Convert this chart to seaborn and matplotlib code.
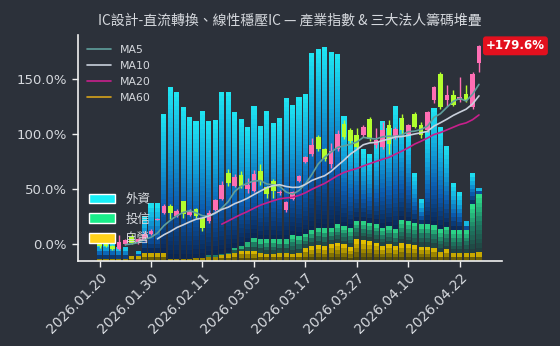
import numpy as np
import pandas as pd
import matplotlib
matplotlib.use("Agg")
import matplotlib.pyplot as plt
import seaborn as sns
from matplotlib.colors import LinearSegmentedColormap
from matplotlib.lines import Line2D
from matplotlib.patches import Patch

# ---------------- data ----------------
dates = ["2026.01.20", "2026.01.21", "2026.01.22", "2026.01.23", "2026.01.26", "2026.01.27",
         "2026.01.28", "2026.01.29", "2026.01.30", "2026.02.02", "2026.02.03", "2026.02.04",
         "2026.02.05", "2026.02.06", "2026.02.09", "2026.02.10", "2026.02.11", "2026.02.23",
         "2026.02.24", "2026.02.25", "2026.02.26", "2026.03.02", "2026.03.03", "2026.03.04",
         "2026.03.05", "2026.03.06", "2026.03.09", "2026.03.10", "2026.03.11", "2026.03.12",
         "2026.03.13", "2026.03.16", "2026.03.17", "2026.03.18", "2026.03.19", "2026.03.20",
         "2026.03.23", "2026.03.24", "2026.03.25", "2026.03.26", "2026.03.27", "2026.03.30",
         "2026.03.31", "2026.04.01", "2026.04.02", "2026.04.07", "2026.04.08", "2026.04.09",
         "2026.04.10", "2026.04.13", "2026.04.14", "2026.04.15", "2026.04.16", "2026.04.17",
         "2026.04.20", "2026.04.21", "2026.04.22", "2026.04.23", "2026.04.24", "2026.04.27"]

open_pct = [1.5, 4.5, -1.5, -4.5, 0.0, 6.6, 1.5, 3.6, 9.1, 22.0,
            28.7, 34.8, 25.7, 38.7, 26.4, 31.8, 23.6, 21.2, 30.9, 40.9,
            64.2, 53.0, 63.0, 50.0, 48.5, 66.6, 52.1, 57.5, 46.5, 30.9,
            40.9, 57.5, 74.2, 81.8, 96.9, 86.4, 72.7, 86.4, 109.1, 103.0,
            98.5, 98.5, 113.6, 89.4, 87.8, 107.5, 96.9, 114.0, 100.0, 118.2,
            107.5, 103.0, 130.3, 154.5, 130.3, 134.8, 130.3, 136.4, 124.2, 163.6]
high_pct = [2.5, 5.5, -0.5, 8.5, 5.0, 9.4, 5.5, 12.1, 14.0, 23.5,
            36.0, 36.6, 32.0, 39.4, 31.5, 33.0, 25.0, 30.7, 41.0, 57.5,
            68.5, 63.9, 66.6, 60.3, 67.5, 73.0, 53.0, 59.4, 49.5, 39.0,
            48.0, 63.0, 80.0, 96.6, 98.5, 87.5, 91.2, 103.0, 112.0, 105.0,
            104.8, 108.0, 114.8, 104.8, 111.0, 112.0, 106.0, 118.0, 109.0, 119.4,
            110.3, 121.0, 143.0, 156.0, 143.9, 139.4, 151.5, 143.9, 155.5, 180.5]
low_pct = [-3.0, -2.5, -5.0, -5.0, -1.0, -0.2, 0.5, 2.5, 8.0, 21.5,
           27.0, 23.0, 24.5, 24.0, 25.5, 24.0, 12.0, 19.4, 30.0, 40.0,
           53.0, 52.0, 51.2, 46.6, 47.0, 53.9, 42.1, 42.1, 45.0, 29.5,
           40.0, 56.5, 73.5, 80.3, 84.8, 75.7, 69.4, 84.8, 95.7, 91.0,
           86.6, 97.0, 93.0, 87.5, 86.0, 82.0, 95.0, 100.0, 99.0, 104.8,
           96.6, 102.0, 128.0, 122.0, 124.8, 124.8, 129.0, 128.5, 122.5, 156.0]
close_pct = [-2.0, -1.5, -4.5, 2.4, 3.6, 1.5, 4.5, 9.6, 12.1, 23.0,
             34.8, 28.7, 30.3, 27.3, 30.3, 25.7, 15.1, 28.7, 40.0, 53.9,
             55.1, 60.5, 53.0, 53.9, 63.6, 56.9, 45.5, 48.5, 47.5, 37.8,
             46.9, 62.1, 78.7, 89.4, 86.4, 77.3, 84.8, 100.0, 96.9, 93.0,
             87.8, 106.0, 95.5, 93.9, 103.0, 90.9, 104.5, 103.0, 107.5, 106.0,
             98.5, 119.6, 142.4, 124.2, 134.8, 125.7, 133.3, 130.3, 154.5, 179.6]

# stacked chip holdings (arbitrary units): foreign / investment trust / dealers
foreign = [15.5, 15.5, 14.5, 11.5, 11.5, 0.5, 5.0, 36.5, 49.5, 49.5,
           138.5, 171.5, 166.5, 151.5, 141.5, 137.0, 146.5, 134.0, 134.5, 161.5,
           160.7, 135.7, 127.3, 115.3, 131.7, 113.3, 128.3, 116.6, 121.6, 141.6,
           130.0, 139.0, 139.4, 177.6, 178.4, 181.3, 175.7, 170.0, 110.0, 97.3,
           85.0, 72.0, 68.7, 82.7, 106.7, 98.3, 123.0, 102.3, 92.0, 50.0,
           25.0, 93.3, 117.6, 102.6, 80.7, 47.3, 38.0, 9.0, 31.6, 6.0]
trust = [0, 0, 0, 0, 0, 0, 0, 0, 0, 0,
         0, 0, 0, 0, 0, 0, 0.5, 2.0, 2.0, 1.5,
         1.6, 5.0, 5.0, 9.0, 13.3, 13.4, 14.4, 14.4, 13.4, 13.4,
         18.7, 16.7, 14.0, 15.7, 17.3, 17.7, 16.6, 18.4, 18.3, 18.7,
         18.3, 19.3, 18.3, 19.0, 18.3, 18.3, 17.0, 23.3, 23.3, 22.6,
         22.4, 22.4, 22.4, 22.7, 22.6, 23.3, 23.3, 22.7, 48.7, 58.3]
dealer = [2.5, 2.5, 2.5, 2.5, 2.5, 5.0, 5.0, 8.5, 8.5, 8.5,
          8.5, 2.5, 2.5, 2.5, 2.5, 3.0, 3.0, 4.0, 4.5, 6.0,
          6.7, 8.3, 10.0, 10.0, 10.0, 8.3, 7.3, 7.3, 8.3, 8.3,
          7.3, 8.3, 13.3, 15.0, 16.0, 15.0, 16.7, 18.3, 16.7, 14.0,
          21.7, 20.7, 20.0, 18.3, 15.0, 16.7, 15.0, 17.7, 16.7, 15.7,
          14.3, 14.3, 13.3, 9.0, 11.7, 7.7, 7.7, 8.3, 8.0, 9.0]

ma_windows = [5, 10, 20, 60]
ma_labels = ["MA5", "MA10", "MA20", "MA60"]
chip_labels = ["外資", "投信", "自營"]
y_ticks = [0, 50, 100, 150]
title_text = "IC設計-直流轉換、線性穩壓IC — 產業指數 & 三大法人籌碼堆疊"

# ---------------- style ----------------
BG = "#2c313a"
TXT = "#d6d9de"
SPINE = "#f0f0f0"
sns.set_theme(style="dark")
plt.rcParams["font.family"] = ["DejaVu Sans"]
plt.rcParams["axes.unicode_minus"] = False

fig = plt.figure(figsize=(5.6, 3.46), dpi=100, facecolor=BG)
ax2 = fig.add_axes([77.5 / 560, 1 - 261 / 346, (501.8 - 77.5) / 560, (261 - 35) / 346])
ax = ax2.twinx()
ax.set_zorder(ax2.get_zorder() + 1)
ax.patch.set_visible(False)
ax2.set_facecolor(BG)

n = len(dates)
xs = np.arange(n)

# ---------------- gradient stacked bars ----------------
cm_foreign = LinearSegmentedColormap.from_list("f", ["#0a2450", "#0b5cb0", "#12a6dc", "#1fe6f2"])
cm_trust = LinearSegmentedColormap.from_list("t", ["#203a3c", "#1e7a62", "#2ee58e"])
cm_dealer = LinearSegmentedColormap.from_list("d", ["#3e3a0c", "#9a8400", "#f2cc00"])

bx, bh, bb, bc = [], [], [], []
band = 4.5
for i in range(n):
    base = 0.0
    for val, cm in ((dealer[i], cm_dealer), (trust[i], cm_trust), (foreign[i], cm_foreign)):
        if val <= 0:
            continue
        k = max(1, int(np.ceil(val / band)))
        seg = val / k
        for j in range(k):
            bx.append(xs[i])
            bh.append(seg)
            bb.append(base + j * seg)
            bc.append(cm((j + 0.5) / k))
        base += val
ax2.bar(bx, bh, bottom=bb, color=bc, width=0.8, linewidth=0, zorder=1)
ax2.set_ylim(0, 226)
ax2.set_yticks([])
ax2.grid(False)

# ---------------- candles ----------------
UP = "#ff6eb4"
DN = "#b2ff2e"
o = np.array(open_pct)
c = np.array(close_pct)
h = np.array(high_pct)
l = np.array(low_pct)
cols = [UP if c[i] >= o[i] else DN for i in range(n)]
ax.vlines(xs, l, h, colors=cols, linewidth=1.0, zorder=3)
body_lo = np.minimum(o, c)
body_h = np.maximum(np.abs(c - o), 0.9)
ax.bar(xs, body_h, bottom=body_lo, width=0.72, color=cols, linewidth=0, zorder=4)

# ---------------- moving averages ----------------
ma_colors = ["#5f9f9c", "#c9d0dc", "#c81f8c", "#d6a21a"]
close_s = pd.Series(close_pct)
handles = []
for w, lab, col in zip(ma_windows, ma_labels, ma_colors):
    ma = close_s.rolling(w).mean()
    df = pd.DataFrame({"x": xs, "ma": ma}).dropna()
    if len(df):
        sns.lineplot(data=df, x="x", y="ma", ax=ax, color=col, linewidth=1.2, zorder=5, legend=False)
    handles.append(Line2D([0], [0], color=col, linewidth=1.2))

ax.set_ylim(-15.2, 189.4)
ax2.set_xlim(-3.44, 62.55)
ax.yaxis.tick_left()
ax.yaxis.set_label_position("left")
ax.set_yticks(y_ticks)
ax.set_yticklabels([f"{v:.1f}%" for v in y_ticks])
tick_idx = list(range(0, n, 8))
ax2.set_xticks(tick_idx)
ax2.set_xticklabels([dates[i] for i in tick_idx], rotation=45, ha="right", rotation_mode="anchor")
for a in (ax, ax2):
    a.set_xlabel("")
    a.set_ylabel("")
    a.grid(False)
    for s in ("top", "right", "left", "bottom"):
        a.spines[s].set_visible(False)
ax.spines["left"].set_visible(True)
ax.spines["left"].set_color(SPINE)
ax.spines["left"].set_linewidth(1.2)
ax2.spines["bottom"].set_visible(True)
ax2.spines["bottom"].set_color(SPINE)
ax2.spines["bottom"].set_linewidth(1.2)
ax2.spines["bottom"].set_zorder(6)
ax.tick_params(axis="y", colors=SPINE, labelcolor=TXT, labelsize=9.5, length=4, width=1, direction="out",
               left=True, right=False, labelleft=True, labelright=False)
ax2.tick_params(axis="x", colors=SPINE, labelcolor=TXT, labelsize=10, length=4, width=1, direction="out",
                bottom=True, labelbottom=True, pad=3)
ax2.tick_params(axis="y", left=False, right=False, labelleft=False)

# ---------------- legends ----------------
leg1 = ax.legend(handles, ma_labels, loc="upper left", bbox_to_anchor=(0.0125, 0.975), borderaxespad=0,
                 frameon=False, fontsize=7.8, labelcolor=TXT, handlelength=2.2, handletextpad=0.8,
                 labelspacing=0.55)
ax.add_artist(leg1)
chip_handles = [Patch(facecolor="#18f0f8"), Patch(facecolor="#19ee8a"), Patch(facecolor="#ffd21a")]
leg2 = ax.legend(chip_handles, chip_labels, loc="lower left", bbox_to_anchor=(0.015, 0.047), borderaxespad=0,
                 frameon=False, labelcolor=TXT, handlelength=2.1, handleheight=0.8,
                 handletextpad=0.8, labelspacing=0.55,
                 prop={"family": ["Noto Sans CJK TC", "DejaVu Sans"], "size": 9})

# ---------------- last value tag ----------------
ax.annotate(f"+{close_pct[-1]:.1f}%", xy=(xs[-1], close_pct[-1]), xytext=(5, 0), textcoords="offset points",
            va="center", ha="left", color="white", fontweight="bold", fontsize=8.5,
            bbox=dict(boxstyle="round,pad=0.25", fc="#e3101e", ec="none"), annotation_clip=False, zorder=10)

fig.text(289.7 / 560, 1 - 21 / 346, title_text, ha="center", va="center", color=TXT, fontsize=10,
         family=["Noto Sans CJK TC", "DejaVu Sans"])

fig.savefig("out.png", dpi=100, facecolor=BG)
